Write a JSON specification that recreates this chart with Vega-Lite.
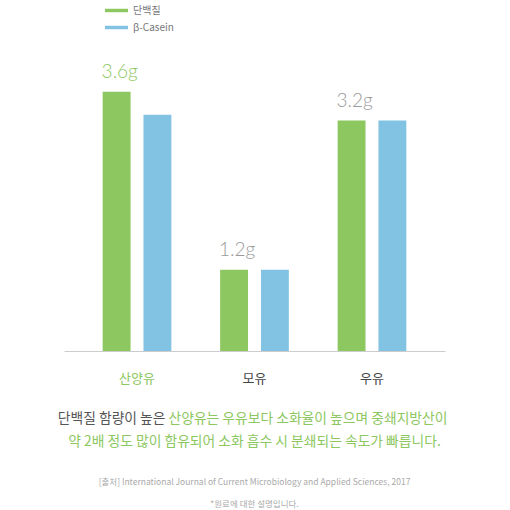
{
  "$schema": "https://vega.github.io/schema/vega-lite/v6.json",
  "width": 381,
  "height": 288,
  "autosize": {"type": "none"},
  "padding": {"left": 64, "top": 63, "right": 65, "bottom": 159},
  "background": "white",
  "config": {"view": {"stroke": null}, "font": "Noto Sans CJK KR"},
  "title": {
    "text": "약 2배 정도 많이 함유되어 소화 흡수 시 분쇄되는 속도가 빠릅니다.",
    "orient": "bottom",
    "anchor": "middle",
    "color": "#8cc760",
    "fontSize": 13.8,
    "fontWeight": "normal",
    "offset": 10,
    "subtitle": ["[출처] International Journal of Current Microbiology and Applied Sciences, 2017", "*원료에 대한 설명입니다."],
    "subtitleColor": "#aaaaaa",
    "subtitleFontSize": 8.5,
    "subtitleLineHeight": 22,
    "subtitlePadding": 29
  },
  "data": {
    "values": [
      {"cat": "산양유", "series": "단백질", "value": 3.6, "label": "3.6g"},
      {"cat": "산양유", "series": "β-Casein", "value": 3.28, "label": ""},
      {"cat": "모유", "series": "단백질", "value": 1.13, "label": "1.2g"},
      {"cat": "모유", "series": "β-Casein", "value": 1.13, "label": ""},
      {"cat": "우유", "series": "단백질", "value": 3.2, "label": "3.2g"},
      {"cat": "우유", "series": "β-Casein", "value": 3.2, "label": ""}
    ]
  },
  "encoding": {
    "x": {
      "field": "cat",
      "type": "nominal",
      "sort": ["산양유", "모유", "우유"],
      "scale": {"paddingInner": 0.3, "paddingOuter": 0.2715},
      "axis": {
        "title": "단백질 함량이 높은",
        "titleColor": "#555555",
        "titleFontSize": 13.8,
        "titleFontWeight": "normal",
        "titleAlign": "right",
        "titleAnchor": null,
        "titleX": 101,
        "titleY": 67,
        "titleBaseline": "middle",
        "labelAngle": 0,
        "labelFontSize": 13,
        "labelPadding": 21,
        "labelColor": {"condition": {"test": "datum.value == '산양유'", "value": "#8cc760"}, "value": "#444444"},
        "ticks": false,
        "domainColor": "#cccccc"
      }
    },
    "xOffset": {
      "field": "series",
      "type": "nominal",
      "sort": ["단백질", "β-Casein"],
      "scale": {"paddingInner": 0.317, "paddingOuter": 0.166}
    },
    "y": {
      "field": "value",
      "type": "quantitative",
      "scale": {"domain": [0, 4]},
      "axis": {
        "title": "산양유는 우유보다 소화율이 높으며 중쇄지방산이",
        "titleAngle": 0,
        "titleAlign": "left",
        "titleAnchor": null,
        "titleX": 104,
        "titleY": 355,
        "titleBaseline": "middle",
        "titleColor": "#8cc760",
        "titleFontSize": 13.8,
        "titleFontWeight": "normal",
        "labels": false,
        "ticks": false,
        "domain": false,
        "grid": false
      }
    }
  },
  "layer": [
    {
      "mark": {"type": "bar"},
      "encoding": {
        "color": {
          "field": "series",
          "type": "nominal",
          "scale": {"domain": ["단백질", "β-Casein"], "range": ["#8cc760", "#82c3e4"]},
          "legend": {
            "title": null,
            "orient": "none",
            "legendX": 41,
            "legendY": -64,
            "symbolType": "M-1,-0.15H1V0.15H-1Z",
            "symbolSize": 529,
            "symbolStrokeWidth": 0,
            "labelFontSize": 10,
            "labelColor": "#777777",
            "rowPadding": 0,
            "padding": 0,
            "labelOffset": 5
          }
        }
      }
    },
    {
      "transform": [{"filter": "datum.label != ''"}],
      "mark": {"type": "text", "align": "left", "baseline": "alphabetic", "dx": -15, "dy": -14, "fontSize": 19, "font": "Lato", "fontWeight": 300},
      "encoding": {
        "text": {"field": "label"},
        "color": {"condition": {"test": "datum.cat == '산양유'", "value": "#8cc760"}, "value": "#9a9a9a"}
      }
    }
  ]
}
